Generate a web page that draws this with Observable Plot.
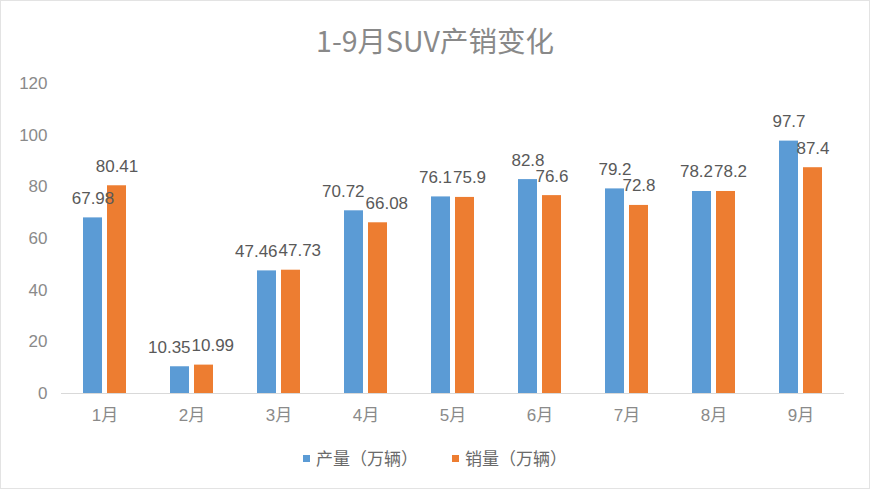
<!DOCTYPE html>
<html>
<head>
<meta charset="utf-8">
<script src="https://cdn.jsdelivr.net/npm/d3@7"></script>
<script src="https://cdn.jsdelivr.net/npm/@observablehq/plot@0.6"></script>
<style>
  html, body { margin: 0; padding: 0; background: #fff; }
  #chart {
    width: 868px; height: 487px; border: 1px solid #e3e3e3; position: relative; overflow: hidden;
    font-family: "Liberation Sans", "Noto Sans CJK SC", sans-serif; background: #fff;
  }
  #title {
    position: absolute; top: 20px; left: 0; width: 100%; text-align: center;
    font-family: "Noto Sans CJK SC", sans-serif; font-size: 28.5px; color: #898989; line-height: 38px;
  }
  #plot { position: absolute; top: 70px; left: -2px; }
  #legend {
    position: absolute; top: 445px; left: 0; width: 100%; display: flex; justify-content: center;
    gap: 34px; font-family: "Noto Sans CJK SC", sans-serif; font-size: 17px; color: #6a6a6a; line-height: 24px;
  }
  .item { display: flex; align-items: center; }
  .sw { width: 7px; height: 7px; margin-right: 6px; }
</style>
</head>
<body>
<div id="chart">
  <div id="title">1-9月SUV产销变化</div>
  <div id="plot"></div>
  <div id="legend"></div>
</div>
<script>
const months = ["1月", "2月", "3月", "4月", "5月", "6月", "7月", "8月", "9月"];
const seriesNames = ["产量（万辆）", "销量（万辆）"];
const production = [67.98, 10.35, 47.46, 70.72, 76.1, 82.8, 79.2, 78.2, 97.7];
const sales = [80.41, 10.99, 47.73, 66.08, 75.9, 76.6, 72.8, 78.2, 87.4];
const yTicks = [0, 20, 40, 60, 80, 100, 120];
const colors = ["#5b9bd5", "#ed7d31"];

const W = 870, H = 362, mL = 60, mR = 24, mT = 12, mB = 40;
const labelFont = 17;

const data = months.flatMap((m, i) => [
  {month: m, series: seriesNames[0], value: production[i]},
  {month: m, series: seriesNames[1], value: sales[i]}
]);

// Simple collision avoidance for paired data labels (like spreadsheet label nudging)
const ctx = document.createElement("canvas").getContext("2d");
ctx.font = `${labelFont}px 'Liberation Sans'`;
const yS = Plot.scale({y: {domain: [0, 120], range: [H - mB, mT]}});
const step = (W - mL - mR) / months.length;
const barGap = step / (2 - 0.2 + 2 * 0.844); // center-to-center distance of paired bars
const offsets = new Map();
months.forEach((m, i) => {
  const b = data[2 * i], o = data[2 * i + 1];
  const wB = ctx.measureText(String(b.value)).width;
  const wO = ctx.measureText(String(o.value)).width;
  const dyPx = Math.abs(yS.apply(b.value) - yS.apply(o.value));
  const need = (wB + wO) / 2 + 2 - barGap;
  let dB = 0, dO = 0;
  if (dyPx < 14 && need > 0) { dB = -need * 0.55; dO = need * 0.45; }
  offsets.set(b, dB); offsets.set(o, dO);
});

const chart = Plot.plot({
  width: W,
  height: H,
  marginLeft: mL,
  marginRight: mR,
  marginTop: mT,
  marginBottom: mB,
  style: {fontFamily: "'Liberation Sans', 'Noto Sans CJK SC', sans-serif", fontSize: "17px", color: "#8a8a8a", background: "transparent"},
  fx: {domain: months, padding: 0, label: null, axis: "bottom", tickSize: 0, tickPadding: 15},
  x: {domain: seriesNames, paddingInner: 0.2, paddingOuter: 0.844, axis: null},
  y: {domain: [0, 120], ticks: yTicks, tickSize: 0, tickPadding: 14, label: null},
  color: {domain: seriesNames, range: colors},
  marks: [
    Plot.ruleY([0], {stroke: "#d9d9d9", strokeWidth: 1}),
    Plot.barY(data, {fx: "month", x: "series", y: "value", fill: "series"}),
    ...data.map(d => Plot.text([d], {fx: "month", x: "series", y: "value", text: v => String(v.value),
      lineAnchor: "bottom", dy: -14, dx: offsets.get(d), fill: "#595959", fontSize: labelFont}))
  ]
});
document.getElementById("plot").appendChild(chart);

const legend = document.getElementById("legend");
seriesNames.forEach((name, i) => {
  const item = document.createElement("div");
  item.className = "item";
  const sw = document.createElement("span");
  sw.className = "sw";
  sw.style.background = colors[i];
  const label = document.createElement("span");
  label.textContent = name;
  item.appendChild(sw);
  item.appendChild(label);
  legend.appendChild(item);
});
</script>
</body>
</html>
